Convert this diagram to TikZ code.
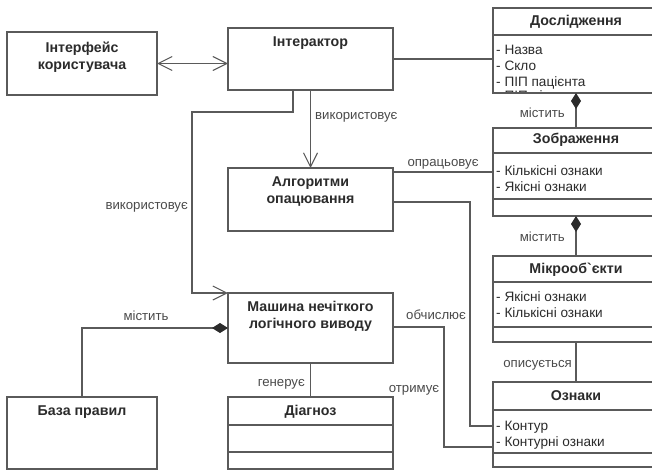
\documentclass[tikz,border=0pt]{standalone}
\usepackage{fontspec}
\setmainfont{Liberation Sans}
\usetikzlibrary{arrows.meta,calc}
\definecolor{ln}{HTML}{5A5A5A}
\definecolor{tx}{HTML}{2B2B2B}
\definecolor{lb}{HTML}{4A4A4A}
\begin{document}
\begin{tikzpicture}[x=1pt,y=-1pt,
  box/.style={draw=ln, line width=1.1pt, inner sep=0pt, outer sep=0pt, anchor=north west, fill=white},
  ttl/.style={font=\fontsize{14.2}{17}\selectfont\bfseries, text=tx, align=center, inner sep=0pt},
  attr/.style={font=\fontsize{13.6}{16}\selectfont, text=tx, anchor=west, inner sep=0pt, text height=10pt, text depth=2pt},
  lbl/.style={font=\fontsize{13.2}{14}\selectfont, text=lb, inner sep=0pt, text height=10pt, text depth=2pt},
  conn/.style={draw=ln, line width=1.1pt},
  openarr/.style={-{Straight Barb[length=14pt,width=14pt,line width=1.1pt]}},
  bothopen/.style={{Straight Barb[length=14pt,width=14pt,line width=1.1pt]}-{Straight Barb[length=14pt,width=14pt,line width=1.1pt]}},
  compo/.style={{Diamond[length=16pt,width=10pt,fill=tx,color=tx]}-},
]
\useasboundingbox (0,0) rectangle (652,471);
\clip (0,0) rectangle (652,471);

% plain boxes
\node[box, minimum width=150pt, minimum height=63pt] (iface) at (7,32) {};
\node[box, minimum width=165pt, minimum height=62pt] (inter) at (228,28) {};
\node[box, minimum width=165pt, minimum height=63pt] (alg) at (228,168) {};
\node[box, minimum width=165pt, minimum height=70pt] (mash) at (228,293) {};
\node[box, minimum width=150pt, minimum height=72pt] (baza) at (7,397) {};
\node[box, minimum width=165pt, minimum height=72pt] (diag) at (228,397) {};

% class boxes
\node[box, minimum width=166pt, minimum height=85pt] (dosl) at (493,8) {};
\node[box, minimum width=166pt, minimum height=88pt] (zobr) at (493,128) {};
\node[box, minimum width=166pt, minimum height=86pt] (micro) at (493,256) {};
\node[box, minimum width=166pt, minimum height=85pt] (ozn) at (493,382) {};

% compartments
\draw[conn] ($(dosl.north west)+(0,27)$) -- ($(dosl.north east)+(0,27)$);
\draw[conn] ($(zobr.north west)+(0,25)$) -- ($(zobr.north east)+(0,25)$);
\draw[conn] ($(zobr.north west)+(0,71)$) -- ($(zobr.north east)+(0,71)$);
\draw[conn] ($(micro.north west)+(0,26)$) -- ($(micro.north east)+(0,26)$);
\draw[conn] ($(micro.north west)+(0,71)$) -- ($(micro.north east)+(0,71)$);
\draw[conn] ($(ozn.north west)+(0,28)$) -- ($(ozn.north east)+(0,28)$);
\draw[conn] ($(ozn.north west)+(0,71)$) -- ($(ozn.north east)+(0,71)$);
\draw[conn] ($(diag.north west)+(0,28)$) -- ($(diag.north east)+(0,28)$);
\draw[conn] ($(diag.north west)+(0,55)$) -- ($(diag.north east)+(0,55)$);

% titles
\node[ttl] (iface-t) at (82,57) {Інтерфейс\\користувача};
\node[ttl] (inter-t) at (310.5,43) {Інтерактор};
\node[ttl] (alg-t) at (310.5,191.5) {Алгоритми\\опацювання};
\node[ttl] (mash-t) at (310.5,316.5) {Машина нечіткого\\логічного виводу};
\node[ttl] (baza-t) at (82,412) {База правил};
\node[ttl] (diag-t) at (310.5,412) {Діагноз};
\node[ttl] (dosl-t) at (576,22) {Дослідження};
\node[ttl] (zobr-t) at (576,140) {Зображення};
\node[ttl] (micro-t) at (576,270) {Мікрооб\textasciigrave єкти};
\node[ttl] (ozn-t) at (576,396) {Ознаки};

% attributes
\node[attr] (d1) at (496,50) {- Назва};
\node[attr] (d2) at (496,66) {- Скло};
\node[attr] (d3) at (496,82) {- ПІП пацієнта};
\begin{scope}
  \clip (dosl.north west) rectangle (dosl.south east);
  \node[attr] (d4) at (496,96) {- ПІП лікаря};
\end{scope}
\draw[conn] (dosl.south west) -- (dosl.south east);
\node[attr] (z1) at (496,171) {- Кількісні ознаки};
\node[attr] (z2) at (496,187) {- Якісні ознаки};
\node[attr] (m1) at (496,297) {- Якісні ознаки};
\node[attr] (m2) at (496,313) {- Кількісні ознаки};
\node[attr] (o1) at (496,426) {- Контур};
\node[attr] (o2) at (496,442) {- Контурні ознаки};

% connectors
\draw[conn, bothopen] (iface.east) -- (iface.east -| inter.west);
\draw[conn] (inter.east) -- (inter.east -| dosl.west);
\draw[conn, openarr] (inter.south) -- (alg.north);
\coordinate (u1) at (192,112);
\draw[conn, openarr] ([xshift=-17.5pt]inter.south) |- (u1) |- (mash.north west);
\draw[conn] ([yshift=-4pt]alg.north east) -- ([yshift=-4pt]alg.north east -| zobr.west);
\coordinate (a2) at (470,426);
\draw[conn] ([yshift=-34pt]alg.north east) -| (a2) -- (a2 -| ozn.west);
\coordinate (mm) at (444,447);
\draw[conn] ([yshift=-34pt]mash.north east) -| (mm) -- (mm -| ozn.west);
\draw[conn, compo] ([yshift=-35pt]mash.north west) -| (baza.north);
\draw[conn] (mash.south) -- (diag.north);
\draw[conn, compo] (dosl.south) -- (zobr.north);
\draw[conn, compo] (zobr.south) -- (micro.north);
\draw[conn] (micro.south) -- (ozn.north);

% labels
\node[lbl, anchor=west] (l1) at (315,115) {використовує};
\node[lbl, anchor=east] (l2) at (188,205) {використовує};
\node[lbl] (l3) at (443,162) {опрацьовує};
\node[lbl, anchor=east] (l4) at (565,113) {містить};
\node[lbl, anchor=east] (l5) at (565,237) {містить};
\node[lbl, anchor=east] (l6) at (572,363) {описується};
\node[lbl] (l7) at (436,315) {обчислює};
\node[lbl] (l8) at (414,388) {отримує};
\node[lbl, anchor=east] (l9) at (305,382) {генерує};
\node[lbl] (l10) at (146,316) {містить};
\end{tikzpicture}
\end{document}
